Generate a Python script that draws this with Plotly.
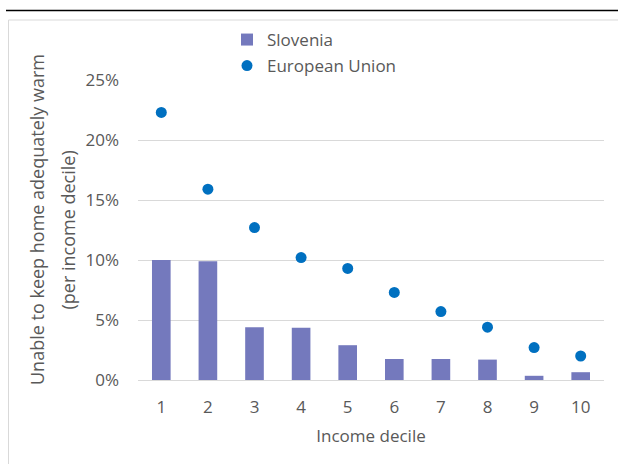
import plotly.graph_objects as go

deciles = ["1", "2", "3", "4", "5", "6", "7", "8", "9", "10"]
slovenia = [10.0, 9.9, 4.4, 4.35, 2.9, 1.75, 1.75, 1.7, 0.35, 0.65]
eu = [22.3, 15.9, 12.7, 10.2, 9.3, 7.3, 5.7, 4.4, 2.7, 2.0]
y_ticks = [0, 5, 10, 15, 20, 25]
y_tick_labels = ["0%", "5%", "10%", "15%", "20%", "25%"]
y_title_lines = ["Unable to keep home adequately warm", "(per income decile)"]

FONT = "Open Sans"
GREY = "#595959"

W, H = 618, 464
L, R, T, B = 138, 14, 80, 84
pw = W - L - R
ph = H - T - B

def px(x):  # reference pixel -> paper
    return (x - L) / pw

def py(y):
    return (H - B - y) / ph

fig = go.Figure()
fig.add_trace(go.Bar(
    x=deciles, y=slovenia, name="Slovenia",
    marker=dict(color="#7479BD", line=dict(width=0)),
    width=0.4, legend="legend",
))
fig.add_trace(go.Scatter(
    x=deciles, y=eu, name="European Union", mode="markers",
    marker=dict(color="#0070C0", size=11), legend="legend2",
))

fig.update_layout(
    width=W, height=H, autosize=False,
    margin=dict(l=L, r=R, t=T, b=B, autoexpand=False),
    paper_bgcolor="white", plot_bgcolor="white",
    font=dict(family=FONT, color=GREY, size=16),
    bargap=0.6,
    legend=dict(x=px(227), y=py(40), xanchor="left", yanchor="middle",
                font=dict(size=17, color=GREY), bgcolor="rgba(0,0,0,0)",
                itemwidth=30),
    legend2=dict(x=px(227), y=py(66), xanchor="left", yanchor="middle",
                 font=dict(size=17, color=GREY), bgcolor="rgba(0,0,0,0)",
                 itemwidth=30),
    showlegend=True,
    xaxis=dict(
        type="category", range=[-0.5, len(deciles) - 0.5],
        showgrid=False, showline=True, linecolor="#D9D9D9",
        linewidth=1, ticks="outside", ticklen=12, tickcolor="rgba(0,0,0,0)",
        tickfont=dict(size=17, color=GREY),
        title=dict(text="Income decile", font=dict(size=17, color=GREY), standoff=12),
    ),
    yaxis=dict(
        range=[0, 25], tickvals=y_ticks, ticktext=y_tick_labels,
        showgrid=True, gridcolor="#D9D9D9", gridwidth=1, zeroline=False,
        showline=False, ticks="", ticklabelstandoff=18,
        tickfont=dict(size=17, color=GREY),
    ),
    annotations=[
        dict(text=y_title_lines[0], textangle=-90, xref="paper", yref="paper",
             x=px(37), y=py(220), xanchor="center", yanchor="middle",
             showarrow=False, font=dict(size=18, color=GREY)),
        dict(text=y_title_lines[1], textangle=-90, xref="paper", yref="paper",
             x=px(67.5), y=py(230), xanchor="center", yanchor="middle",
             showarrow=False, font=dict(size=18, color=GREY)),
    ],
    shapes=[
        dict(type="rect", xref="paper", yref="paper",
             x0=px(8.5), x1=px(640), y0=py(20), y1=py(480),
             line=dict(color="#D9D9D9", width=1), fillcolor="rgba(0,0,0,0)", layer="below"),
        dict(type="line", xref="paper", yref="paper",
             x0=px(6), x1=px(630), y0=py(10.5), y1=py(10.5),
             line=dict(color="black", width=1.5)),
    ],
)

fig.write_html(
    "out.html",
    config={"displayModeBar": False},
    post_script="document.body.style.margin='0';document.body.style.padding='0';"
                "document.body.style.overflow='hidden';",
)
